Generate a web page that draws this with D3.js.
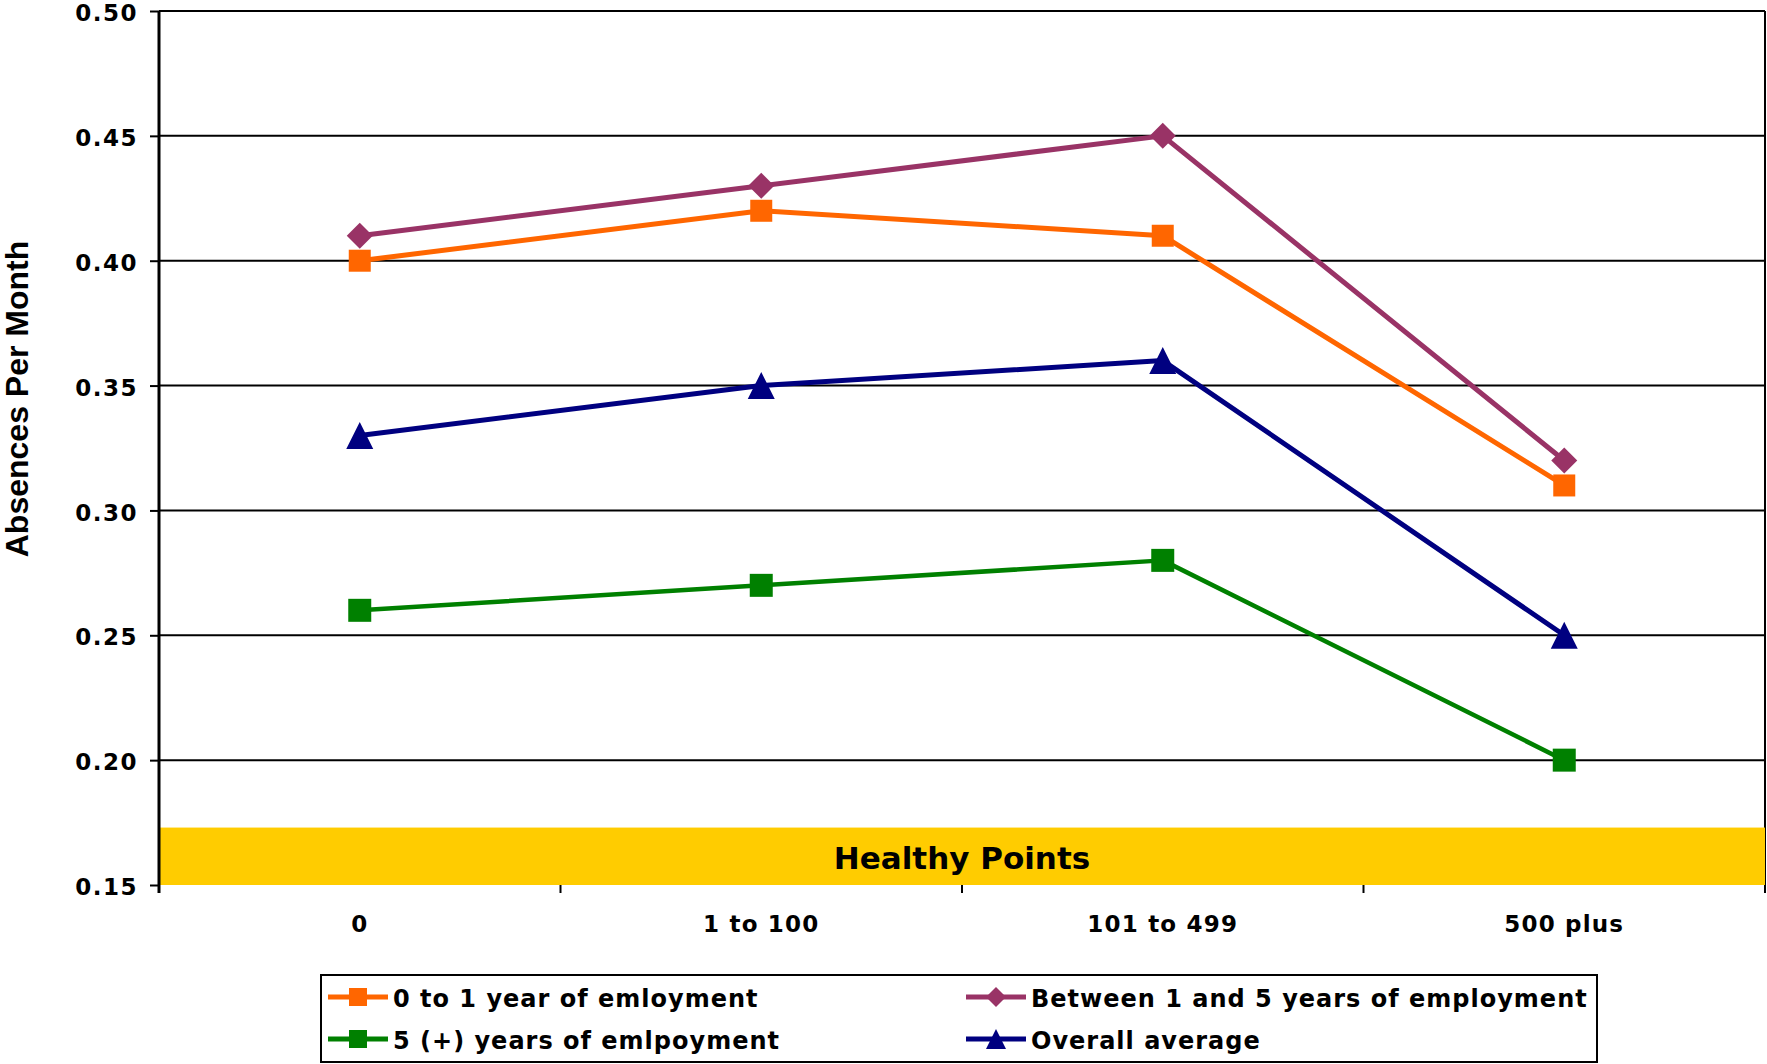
<!DOCTYPE html>
<html>
<head>
<meta charset="utf-8">
<script src="https://cdn.jsdelivr.net/npm/d3@7/dist/d3.min.js"></script>
<style>
  html, body { margin: 0; padding: 0; background: #ffffff; }
  svg { display: block; }
  text { font-family: "DejaVu Sans", Verdana, sans-serif; font-weight: bold; fill: #000; }
</style>
</head>
<body>
<svg id="chart" width="1767" height="1064"></svg>
<script>
// Company size categories along the x axis
const categories = ["0", "1 to 100", "101 to 499", "500 plus"];

// Absences per month for each employment-length group
const seriesNames = [
  "0 to 1 year of emloyment",
  "Between 1 and 5 years of employment",
  "5 (+) years of emlpoyment",
  "Overall average"
];
const zeroToOneYear   = [0.40, 0.42, 0.41, 0.31];
const oneToFiveYears  = [0.41, 0.43, 0.45, 0.32];
const fivePlusYears   = [0.26, 0.27, 0.28, 0.20];
const overallAverage  = [0.33, 0.35, 0.36, 0.25];

// Y axis tick values and the "Healthy Points" band
const yTicks = [0.15, 0.20, 0.25, 0.30, 0.35, 0.40, 0.45, 0.50];
const yDomain = [0.15, 0.50];
const healthyBand = [0.15, 0.173];
const healthyLabel = "Healthy Points";
const yTitle = "Absences Per Month";

const series = [
  { name: seriesNames[0], values: zeroToOneYear,  color: "#FF6600", marker: "square",   size: 22, width: 5 },
  { name: seriesNames[1], values: oneToFiveYears, color: "#993366", marker: "diamond",  size: 26, width: 5 },
  { name: seriesNames[2], values: fivePlusYears,  color: "#008000", marker: "square",   size: 23, width: 4.5 },
  { name: seriesNames[3], values: overallAverage, color: "#000080", marker: "triangle", size: 27, width: 5 }
];

const svg = d3.select("#chart");
const plot = { left: 159, right: 1765, top: 11, bottom: 885 };

const x = d3.scaleBand().domain(categories).range([plot.left, plot.right]).padding(0);
const y = d3.scaleLinear().domain(yDomain).range([plot.bottom, plot.top]);
const cx = c => x(c) + x.bandwidth() / 2;

// Marker path generator centred on (0,0)
function markerPath(kind, s) {
  const h = s / 2;
  if (kind === "square") return `M${-h},${-h}H${h}V${h}H${-h}Z`;
  if (kind === "diamond") return `M0,${-h}L${h},0L0,${h}L${-h},0Z`;
  if (kind === "triangle") return `M0,${-h}L${h},${h}L${-h},${h}Z`;
  return "";
}

// Horizontal gridlines
svg.append("g")
  .selectAll("line")
  .data(yTicks.filter(t => t > yDomain[0]))
  .join("line")
  .attr("x1", plot.left).attr("x2", plot.right)
  .attr("y1", d => y(d)).attr("y2", d => y(d))
  .attr("stroke", "#000").attr("stroke-width", 2);

// Right border of the plot area
svg.append("line")
  .attr("x1", plot.right).attr("x2", plot.right)
  .attr("y1", plot.top).attr("y2", plot.bottom)
  .attr("stroke", "#000").attr("stroke-width", 2);

// Healthy band
svg.append("rect")
  .attr("x", plot.left).attr("width", plot.right - plot.left)
  .attr("y", y(healthyBand[1])).attr("height", y(healthyBand[0]) - y(healthyBand[1]))
  .attr("fill", "#FFCC00");
svg.append("text")
  .attr("x", (plot.left + plot.right) / 2)
  .attr("y", y(healthyBand[0]) - 16)
  .attr("text-anchor", "middle")
  .style("font-size", "31px")
  .text(healthyLabel);

// Y axis
const yAxis = d3.axisLeft(y).tickValues(yTicks).tickFormat(d3.format(".2f")).tickSize(9).tickPadding(12);
const gy = svg.append("g").attr("transform", `translate(${plot.left},0)`).call(yAxis);
gy.select(".domain").remove();
gy.selectAll(".tick line").attr("stroke", "#000").attr("stroke-width", 2);
gy.selectAll(".tick text")
  .attr("dy", "0.42em")
  .style("font-family", '"DejaVu Sans", Verdana, sans-serif')
  .style("font-weight", "bold")
  .style("font-size", "23px")
  .style("letter-spacing", "1.5px")
  .attr("fill", "#000");
svg.append("line")
  .attr("x1", plot.left).attr("x2", plot.left)
  .attr("y1", plot.top).attr("y2", plot.bottom + 8)
  .attr("stroke", "#000").attr("stroke-width", 3);

// X axis: tick marks at category boundaries, labels at band centres
const boundaries = categories.map(c => x(c)).concat([plot.right]).slice(1);
svg.append("g")
  .selectAll("line")
  .data(boundaries)
  .join("line")
  .attr("x1", d => d).attr("x2", d => d)
  .attr("y1", plot.bottom).attr("y2", plot.bottom + 8)
  .attr("stroke", "#000").attr("stroke-width", 2);
svg.append("g")
  .selectAll("text")
  .data(categories)
  .join("text")
  .attr("x", d => cx(d))
  .attr("y", plot.bottom + 47)
  .attr("text-anchor", "middle")
  .style("font-size", "23px")
  .style("letter-spacing", "1.2px")
  .text(d => d);

// Y axis title
svg.append("text")
  .attr("transform", `translate(28,${(242 + 556) / 2}) rotate(-90)`)
  .attr("text-anchor", "middle")
  .style("font-family", '"Liberation Sans", Arial, sans-serif')
  .style("font-size", "32px")
  .text(yTitle);

// Series lines and markers
const line = d3.line().x((d, i) => cx(categories[i])).y(d => y(d));
series.forEach(s => {
  const g = svg.append("g");
  g.append("path")
    .attr("d", line(s.values))
    .attr("fill", "none")
    .attr("stroke", s.color)
    .attr("stroke-width", s.width)
    .attr("stroke-linejoin", "round");
  g.selectAll("path.mk")
    .data(s.values)
    .join("path")
    .attr("class", "mk")
    .attr("transform", (d, i) => `translate(${cx(categories[i])},${y(d)})`)
    .attr("d", markerPath(s.marker, s.size))
    .attr("fill", s.color);
});

// Legend
const legend = svg.append("g");
legend.append("rect")
  .attr("x", 321).attr("y", 975).attr("width", 1276).attr("height", 87)
  .attr("fill", "#fff").attr("stroke", "#000").attr("stroke-width", 2);
const legendPos = [
  { x: 328, y: 997 }, { x: 966, y: 997 },
  { x: 328, y: 1039 }, { x: 966, y: 1039 }
];
series.forEach((s, i) => {
  const p = legendPos[i];
  const g = legend.append("g").attr("transform", `translate(${p.x},${p.y})`);
  g.append("line").attr("x1", 0).attr("x2", 60).attr("y1", 0).attr("y2", 0)
    .attr("stroke", s.color).attr("stroke-width", 5);
  g.append("path")
    .attr("transform", "translate(30,0)")
    .attr("d", markerPath(s.marker, s.marker === "square" ? 18 : 20))
    .attr("fill", s.color);
  g.append("text")
    .attr("x", 65).attr("y", 10)
    .style("font-size", "24px")
    .style("letter-spacing", "1px")
    .text(s.name);
});
</script>
</body>
</html>
